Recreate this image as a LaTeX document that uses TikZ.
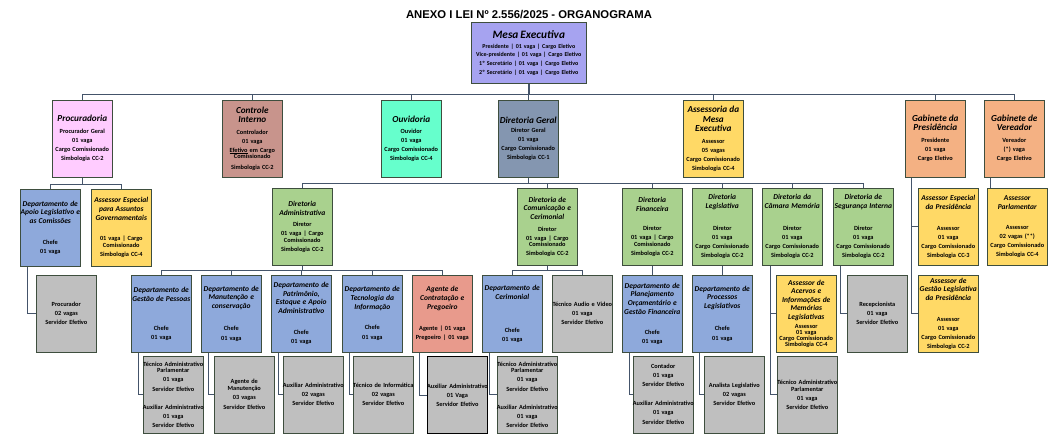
\documentclass[tikz,border=0pt]{standalone}
\usepackage{fontspec}
\setmainfont{Carlito}
\newfontfamily\headfont{Liberation Sans}

\definecolor{mesacol}{RGB}{166,163,240}
\definecolor{procurcol}{RGB}{255,204,255}
\definecolor{controlecol}{RGB}{200,148,140}
\definecolor{ouvcol}{RGB}{102,255,204}
\definecolor{dgcol}{RGB}{132,150,176}
\definecolor{yellowcol}{RGB}{255,217,102}
\definecolor{orangecol}{RGB}{244,177,131}
\definecolor{bluecol}{RGB}{142,169,219}
\definecolor{greencol}{RGB}{169,209,142}
\definecolor{greycol}{RGB}{191,191,191}
\definecolor{agentecol}{RGB}{232,154,140}
\definecolor{edgecol}{RGB}{62,78,62}
\definecolor{linkcol}{RGB}{68,84,106}

\newcommand{\tm}[1]{{\fontsize{11.3}{12}\selectfont\itshape #1}}
\newcommand{\tb}[1]{{\fontsize{9.2}{10}\selectfont\itshape #1}}
\newcommand{\ts}[1]{{\fontsize{7.5}{8.5}\selectfont\itshape #1}}

\begin{document}
\begin{tikzpicture}[x=1pt, y=-1pt,
    box/.style={draw=edgecol, line width=0.6pt, anchor=north west, inner xsep=-3pt, inner ysep=0pt,
      text width=66pt, align=center, minimum height=77pt, font=\fontsize{6.3}{9}\selectfont\bfseries},
    mesabox/.style={text width=121pt, minimum height=61pt, font=\fontsize{6}{8.7}\selectfont\bfseries},
    link/.style={draw=linkcol, line width=0.8pt},
    mainlink/.style={draw=linkcol, line width=1.6pt}
]
\useasboundingbox (0,0) rectangle (1057,442);

\node[font=\headfont\bfseries\fontsize{11.3}{13}\selectfont] (heading) at (529,15) {ANEXO I LEI Nº 2.556/2025 - ORGANOGRAMA};

\node[box, mesabox, fill=mesacol] (mesa) at (471,22) {\tm{Mesa Executiva}\\[1pt]
  Presidente | 01 vaga | Cargo Eletivo\\ Vice-presidente | 01 vaga | Cargo Eletivo\\
  1º Secretário | 01 vaga | Cargo Eletivo\\ 2º Secretário | 01 vaga | Cargo Eletivo};

\node[box, fill=procurcol] (procur) at (52,100) {\tb{Procuradoria}\\[3pt] Procurador Geral\\01 vaga\\Cargo Comissionado\\Simbologia CC-2};
\node[box, fill=controlecol] (controle) at (222,100) {\tb{Controle\\Interno}\\[3pt] Controlador\\01 vaga\\\underline{Efetivo} em Cargo\\[-2.5pt] Comissionado\\[2pt] Simbologia CC-2};
\node[box, fill=ouvcol] (ouvid) at (381,100) {\tb{Ouvidoria}\\[2.5pt] Ouvidor\\01 vaga\\Cargo Comissionado\\Simbologia CC-4};
\node[box, fill=dgcol] (dirgeral) at (498,100) {\tb{Diretoria Geral}\\ Diretor Geral\\01 vaga\\Cargo Comissionado\\Simbologia CC-1};
\node[box, fill=yellowcol] (assmesa) at (683,100) {\tb{Assessoria da\\Mesa\\Executiva}\\[2.5pt] Assessor\\05 vagas\\Cargo Comissionado\\Simbologia CC-4};
\node[box, fill=orangecol] (gabpres) at (905,100) {\tb{Gabinete da\\Presidência}\\[3pt] Presidente\\01 vaga\\Cargo Eletivo};
\node[box, fill=orangecol] (gabver) at (984,100) {\tb{Gabinete de\\Vereador}\\[3pt] Vereador\\(*) vaga\\Cargo Eletivo};

\node[box, fill=bluecol] (apoio) at (20,189) {\ts{Departamento de\\Apoio Legislativo e\\as Comissões}\\[11.5pt] Chefe\\01 vaga};
\node[box, fill=yellowcol] (assgov) at (91,189) {\ts{Assessor Especial\\para Assuntos\\Governamentais}\\[11pt] 01 vaga | Cargo\\[-1.5pt] Comissionado\\ Simbologia CC-4};
\node[box, fill=greencol] (diradm) at (272,188) {\ts{Diretoria\\Administrativa}\\[1.5pt] Diretor\\01 vaga | Cargo\\[-2pt] Comissionado\\ Simbologia CC-2};
\node[box, fill=greencol] (dircom) at (517,188) {\ts{Diretoria de\\Comunicação e\\Cerimonial}\\[2.5pt] Diretor\\01 vaga | Cargo\\[-2.5pt] Comissionado\\ Simbologia CC-2};
\node[box, fill=greencol] (dirfin) at (622,188) {\ts{Diretoria\\Financeira}\\[10pt] Diretor\\01 vaga | Cargo\\[-2.5pt] Comissionado\\ Simbologia CC-2};
\node[box, fill=greencol] (dirleg) at (692,188) {\ts{Diretoria\\Legislativa}\\[13pt] Diretor\\01 vaga\\Cargo Comissionado\\Simbologia CC-2};
\node[box, fill=greencol] (dirmem) at (762,188) {\ts{Diretoria da\\Câmara Memória}\\[13pt] Diretor\\01 vaga\\Cargo Comissionado\\Simbologia CC-2};
\node[box, fill=greencol] (dirseg) at (833,188) {\ts{Diretoria de\\Segurança Interna}\\[13pt] Diretor\\01 vaga\\Cargo Comissionado\\Simbologia CC-2};
\node[box, fill=yellowcol] (asspres) at (918,188) {\ts{Assessor Especial\\da Presidência}\\[11.5pt] Assessor\\01 vaga\\Cargo Comissionado\\Simbologia CC-3};
\node[box, fill=yellowcol] (assparl) at (987,188) {\ts{Assessor\\Parlamentar}\\[11.5pt] Assessor\\02 vagas (**)\\Cargo Comissionado\\Simbologia CC-4};

\node[box, fill=greycol] (procgrey) at (36,275) {Procurador\\02 vagas\\Servidor Efetivo};
\node[box, fill=bluecol] (gestpes) at (131,275) {\ts{Departamento de\\Gestão de Pessoas}\\[20pt] Chefe\\[-0.5pt] 01 vaga};
\node[box, fill=bluecol] (manut) at (201,275) {\ts{Departamento de\\Manutenção e\\conservação}\\[13pt] Chefe\\[1pt] 01 vaga};
\node[box, fill=bluecol] (patrim) at (271,275) {\ts{Departamento de\\Patrimônio,\\Estoque e Apoio\\Administrativo}\\[12pt] Chefe\\01 vaga};
\node[box, fill=bluecol] (tecinf) at (342,275) {\ts{Departamento de\\Tecnologia da\\Informação}\\[11pt] Chefe\\[1.5pt] 01 vaga};
\node[box, fill=agentecol] (agente) at (412,275) {\ts{Agente de\\Contratação e\\Pregoeiro}\\[12.5pt] Agente | 01 vaga\\Pregoeiro | 01 vaga};
\node[box, fill=bluecol] (cerim) at (482,275) {\ts{Departamento de\\Cerimonial}\\[24pt] Chefe\\01 vaga};
\node[box, fill=greycol] (audvid) at (552,275) {Técnico Audio e Video\\01 vaga\\Servidor Efetivo};
\node[box, fill=bluecol] (planej) at (622,275) {\ts{Departamento de\\Planejamento\\Orçamentário e\\Gestão Financeira}\\[11.5pt] Chefe\\01 vaga};
\node[box, fill=bluecol] (process) at (692,275) {\ts{Departamento de\\Processos\\Legislativos}\\[12.5pt] Chefe\\[1pt] 01 vaga};
\node[box, fill=yellowcol] (acervos) at (776,275) {\ts{Assessor de\\Acervos e\\Informações de\\Memórias\\Legislativas}\\[-0.5pt] Assessor\\[-3pt] 01 vaga\\[-3pt] Cargo Comissionado\\[-3pt] Simbologia CC-4};
\node[box, fill=greycol] (recep) at (847,275) {Recepcionista\\01 vaga\\Servidor Efetivo};
\node[box, fill=yellowcol] (assgest) at (918,275) {\ts{Assessor de\\Gestão Legislativa\\da Presidência}\\[12pt] Assessor\\01 vaga\\Cargo Comissionado\\Simbologia CC-2};

\node[box, fill=greycol] (gestpesg) at (143,356) {Técnico Administrativo\\[-3pt] Parlamentar\\[0.5pt] 01 vaga\\[1pt] Servidor Efetivo\\[9pt] Auxiliar Administrativo\\01 vaga\\Servidor Efetivo};
\node[box, fill=greycol] (manutg) at (214,356) {Agente de\\[-2pt] Manutenção\\03 vagas\\[1pt] Servidor Efetivo};
\node[box, fill=greycol] (patrimg) at (283,356) {Auxiliar Administrativo\\02 vagas\\Servidor Efetivo};
\node[box, fill=greycol] (tecinfg) at (353,356) {Técnico de Informática\\02 vagas\\Servidor Efetivo};
\node[box, fill=greycol, draw=black, line width=0.9pt] (agenteg) at (427,356) {Auxiliar Administrativo\\01 Vaga\\Servidor Efetivo};
\node[box, fill=greycol] (cerimg) at (497,356) {Técnico Administrativo\\[-3pt] Parlamentar\\[0.5pt] 01 vaga\\[1pt] Servidor Efetivo\\[9pt] Auxiliar Administrativo\\01 vaga\\Servidor Efetivo};
\node[box, fill=greycol] (planejg) at (633,356) {Contador\\01 vaga\\Servidor Efetivo\\[10pt] Auxiliar Administrativo\\01 vaga\\[1pt] Servidor Efetivo};
\node[box, fill=greycol] (processg) at (704,356) {Analista Legislativo\\02 vagas\\Servidor Efetivo};
\node[box, fill=greycol] (memg) at (777,356) {Técnico Administrativo\\[-2.5pt] Parlamentar\\01 vaga\\Servidor Efetivo};

\foreach \n in {procur,controle,ouvid,dirgeral,assmesa,gabpres,gabver}
  \draw[link] (mesa.south) -- ++(0,11) -| (\n.north);
\draw[mainlink] (mesa.south) -- ++(0,11) -| (dirgeral.north);
\foreach \n in {diradm,dircom,dirfin,dirleg,dirmem,dirseg}
  \draw[link] (dirgeral.south) -- ++(0,6) -| (\n.north);
\draw[mainlink] (dirgeral.south) -- ++(0,6);
\foreach \n in {apoio,assgov}
  \draw[link] (procur.south) -- ++(0,7) -| (\n.north);
\foreach \n in {gestpes,manut,patrim,tecinf,agente}
  \draw[link] (diradm.south) -- ++(0,5) -| (\n.north);
\foreach \n in {cerim,audvid}
  \draw[link] (dircom.south) -- ++(0,5) -| (\n.north);
\draw[link] (dirfin) -- (planej);
\draw[link] (dirleg) -- (process);
\draw[link] ([xshift=7pt]apoio.south west) |- (procgrey.west);
\draw[link] ([xshift=8pt]dirmem.south west) |- (acervos.west);
\draw[link] ([xshift=8pt]dirmem.south west) |- (memg.west);
\draw[link] ([xshift=7pt]dirseg.south west) |- (recep.west);
\draw[link] ([xshift=6pt]gabpres.south west) |- (asspres.west);
\draw[link] ([xshift=6pt]gabpres.south west) |- (assgest.west);
\draw[link] ([xshift=6pt]gabver.south west) -- ([xshift=3pt]assparl.north west);
\foreach \a/\b in {gestpes/gestpesg,manut/manutg,patrim/patrimg,tecinf/tecinfg,agente/agenteg,cerim/cerimg,planej/planejg,process/processg}
  \draw[link] ([xshift=7pt]\a.south west) |- (\b.west);
\end{tikzpicture}
\end{document}
